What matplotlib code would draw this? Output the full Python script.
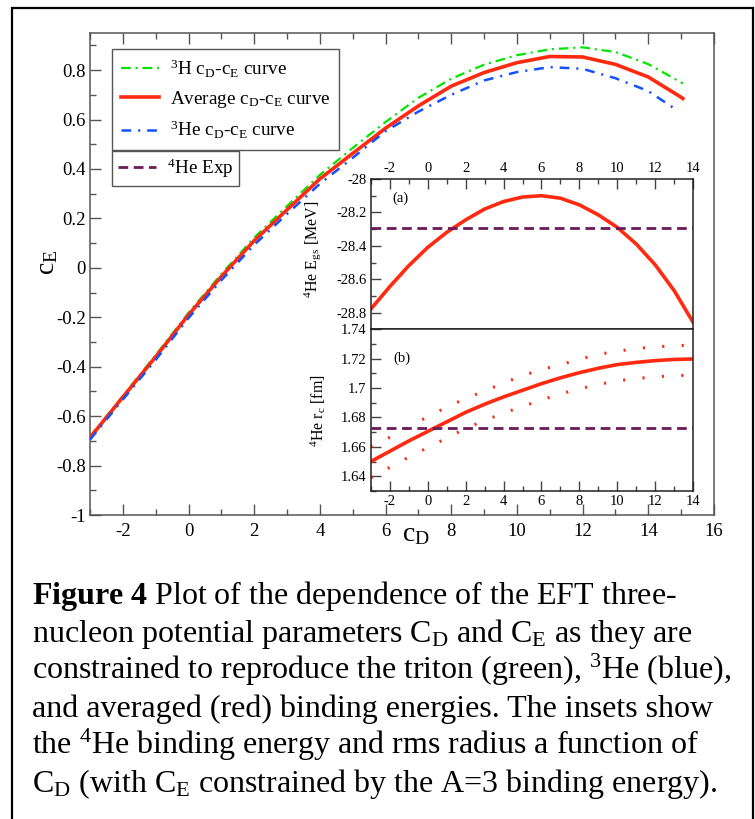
import numpy as np
import matplotlib.pyplot as plt
from matplotlib.ticker import MultipleLocator, FuncFormatter
from matplotlib.patches import Rectangle

plt.rcParams['font.family'] = ['Liberation Serif', 'DejaVu Serif']
plt.rcParams['mathtext.fontset'] = 'custom'
plt.rcParams['mathtext.rm'] = 'Liberation Serif'
plt.rcParams['mathtext.it'] = 'Liberation Serif:italic'
plt.rcParams['mathtext.bf'] = 'Liberation Serif:bold'
plt.rcParams['axes.unicode_minus'] = False
plt.rcParams['lines.scale_dashes'] = False

# cD-cE curves fixed by the A=3 binding energies
cd_h3 = [-3, -2, -1, 0, 1, 2, 3, 4, 5, 6, 7, 8, 9, 10, 11, 12, 13, 14, 15, 15.05]
ce_h3 = [-0.683, -0.518, -0.353, -0.182, -0.025, 0.122, 0.25, 0.376, 0.485, 0.59,
         0.688, 0.765, 0.822, 0.86, 0.884, 0.892, 0.873, 0.824, 0.75, 0.745]
cd_avg = [-3, -2, -1, 0, 1, 2, 3, 4, 5, 6, 7, 8, 9, 10, 11, 12, 13, 14, 15, 15.05]
ce_avg = [-0.687, -0.523, -0.36, -0.19, -0.035, 0.11, 0.235, 0.36, 0.463, 0.565,
          0.655, 0.735, 0.79, 0.83, 0.855, 0.853, 0.823, 0.772, 0.69, 0.685]
cd_he3 = [-3, -2, -1, 0, 1, 2, 3, 4, 5, 6, 7, 8, 9, 10, 11, 12, 13, 14, 14.8]
ce_he3 = [-0.695, -0.533, -0.372, -0.203, -0.05, 0.093, 0.218, 0.34, 0.445, 0.553,
          0.632, 0.70, 0.758, 0.792, 0.812, 0.805, 0.767, 0.715, 0.644]

# 4He ground state energy and charge radius along the average curve
cd_he4 = [-3, -2, -1, 0, 1, 2, 3, 4, 5, 6, 7, 8, 9, 10, 11, 12, 13, 14]
e_gs = [-28.78, -28.645, -28.52, -28.41, -28.32, -28.245, -28.18, -28.135, -28.108,
        -28.1, -28.115, -28.155, -28.215, -28.29, -28.39, -28.515, -28.67, -28.86]
rc = [1.650, 1.657, 1.664, 1.6705, 1.677, 1.6835, 1.689, 1.694, 1.6985, 1.703,
      1.707, 1.7105, 1.7135, 1.716, 1.7175, 1.7187, 1.7195, 1.7198]
rc_hi = [1.660, 1.6665, 1.6735, 1.6805, 1.687, 1.693, 1.698, 1.7035, 1.7085, 1.7125,
         1.716, 1.7195, 1.723, 1.725, 1.727, 1.728, 1.7288, 1.7293]
rc_lo = [1.639, 1.646, 1.653, 1.6595, 1.666, 1.6725, 1.678, 1.683, 1.6875, 1.692,
         1.696, 1.6995, 1.7025, 1.705, 1.7065, 1.7077, 1.7085, 1.7088]
e_exp = -28.296
rc_exp = 1.673

caption = [
    r'$\mathbf{Figure\ 4}$ Plot of the dependence of the EFT three-',
    r'nucleon potential parameters C$_\mathrm{D}$ and C$_\mathrm{E}$ as they are',
    r'constrained to reproduce the triton (green), $^3$He (blue),',
    r'and averaged (red) binding energies. The insets show',
    r'the $^4$He binding energy and rms radius a function of',
    r'C$_\mathrm{D}$ (with C$_\mathrm{E}$ constrained by the A=3 binding energy).',
]

GREEN = '#00e600'
RED = '#ff2a10'
BLUE = '#1550ff'
MAROON = '#6b1a5a'

W, H = 755, 819
fig = plt.figure(figsize=(W / 100, H / 100), dpi=100)

fmt = FuncFormatter(lambda v, p: '%g' % (round(v, 6) + 0.0))

# main panel
ax = fig.add_axes([90 / W, 1 - 515 / H, 624 / W, 482 / H])
l_h3, = ax.plot(cd_h3, ce_h3, color=GREEN, lw=1.6, dashes=(7, 3.5, 1.5, 3.5), zorder=2,
                label=r'$^3$H c$_\mathrm{D}$-c$_\mathrm{E}$ curve')
l_avg, = ax.plot(cd_avg, ce_avg, color=RED, lw=2.6, zorder=3,
                 label=r'Average c$_\mathrm{D}$-c$_\mathrm{E}$ curve')
l_he3, = ax.plot(cd_he3, ce_he3, color=BLUE, lw=1.8, dashes=(7, 5, 1.5, 5), zorder=4,
                 label=r'$^3$He c$_\mathrm{D}$-c$_\mathrm{E}$ curve')
ax.set_xlim(-3, 16)
ax.set_ylim(-1, 0.95)
ax.xaxis.set_major_locator(MultipleLocator(2))
ax.xaxis.set_minor_locator(MultipleLocator(1))
ax.yaxis.set_major_locator(MultipleLocator(0.2))
ax.yaxis.set_minor_locator(MultipleLocator(0.1))
ax.xaxis.set_major_formatter(fmt)
ax.yaxis.set_major_formatter(fmt)
ax.tick_params(which='both', direction='in', top=True, right=False, color='#555555',
               width=1, labelsize=13.5)
ax.tick_params(which='major', length=8)
ax.tick_params(which='minor', length=4)
ax.tick_params(axis='y', pad=3)
ax.tick_params(axis='x', pad=6)
for s in ax.spines.values():
    s.set_color('#555555')
    s.set_linewidth(1.1)

# insets
axa = fig.add_axes([370.7 / W, 1 - 329.3 / H, 322.6 / W, 150.3 / H])
axb = fig.add_axes([370.7 / W, 1 - 491 / H, 322.6 / W, 161.7 / H])

axa.plot(cd_he4, e_gs, color=RED, lw=2.6)
l_exp = axa.axhline(e_exp, color=MAROON, lw=2, dashes=(7, 4), label=r'$^4$He Exp')
axa.set_xlim(-3, 14)
axa.set_ylim(-28.9, -28)
axa.yaxis.set_major_locator(MultipleLocator(0.2))
axa.yaxis.set_minor_locator(MultipleLocator(0.1))
axa.tick_params(axis='x', which='both', top=True, bottom=False, labeltop=True,
                labelbottom=False)
axa.text(0.067, 0.875, '(a)', transform=axa.transAxes, fontsize=10.5, va='center')

axb.plot(cd_he4, rc, color=RED, lw=2.6)
axb.plot(cd_he4, rc_hi, color=RED, lw=2.2, ls=(0, (1.5, 12.5)))
axb.plot(cd_he4, rc_lo, color=RED, lw=2.2, ls=(0, (1.5, 12.5)))
axb.axhline(rc_exp, color=MAROON, lw=2, dashes=(7, 4))
axb.set_xlim(-3, 14)
axb.set_ylim(1.63, 1.74)
axb.yaxis.set_major_locator(MultipleLocator(0.02))
axb.yaxis.set_minor_locator(MultipleLocator(0.01))
axb.tick_params(axis='x', which='both', top=False, bottom=True)
axb.text(0.07, 0.82, '(b)', transform=axb.transAxes, fontsize=10.5, va='center')

for a in (axa, axb):
    a.set_zorder(5)
    a.xaxis.set_major_locator(MultipleLocator(2))
    a.xaxis.set_minor_locator(MultipleLocator(1))
    a.xaxis.set_major_formatter(fmt)
    a.yaxis.set_major_formatter(fmt)
    a.tick_params(which='both', direction='in', right=False, color='#444444',
                  width=1, labelsize=10.5, pad=3)
    a.tick_params(which='major', length=7)
    a.tick_params(which='minor', length=3.5)
    for s in a.spines.values():
        s.set_color('#222222')
        s.set_linewidth(1.1)

# legends
leg_kw = dict(loc='upper left', borderaxespad=0, fontsize=13.8, frameon=True,
              fancybox=False, framealpha=1, edgecolor='#555555', handlelength=2.0,
              handletextpad=0.55)
leg1 = ax.legend(handles=[l_h3, l_avg, l_he3], bbox_to_anchor=(22 / 624, 1 - 16 / 482),
                 labelspacing=0.48, borderpad=0.45, **leg_kw)
leg1.get_frame().set_linewidth(1)
ax.add_artist(leg1)
leg2 = ax.legend(handles=[l_exp], bbox_to_anchor=(22 / 624, 1 - 118 / 482),
                 borderpad=0.3, **leg_kw)
leg2.get_frame().set_linewidth(1)

# axis titles
fig.text(48 / W, 1 - 262 / H, r'c$_\mathrm{E}$', fontsize=20, rotation=90,
         ha='center', va='center')
fig.text(416 / W, 1 - 535 / H, r'c$_\mathrm{D}$', fontsize=20, ha='center', va='center')
fig.text(313 / W, 1 - 249 / H, r'$^4$He E$_\mathrm{gs}$ [MeV]', fontsize=11.5,
         rotation=90, ha='center', va='center')
fig.text(318 / W, 1 - 411 / H, r'$^4$He r$_\mathrm{c}$ [fm]', fontsize=11.5,
         rotation=90, ha='center', va='center')

# caption
for i, line in enumerate(caption):
    fig.text(32 / W, 1 - (604 + 37.6 * i) / H, line, fontsize=23, va='baseline',
             ha='left')

# frame around figure and caption
fig.patches.append(Rectangle((11.5 / W, -0.02), 741 / W, 1.02 - 7.5 / H,
                             transform=fig.transFigure, fill=False,
                             edgecolor='black', lw=1.6))

fig.savefig('out.png', dpi=100)
